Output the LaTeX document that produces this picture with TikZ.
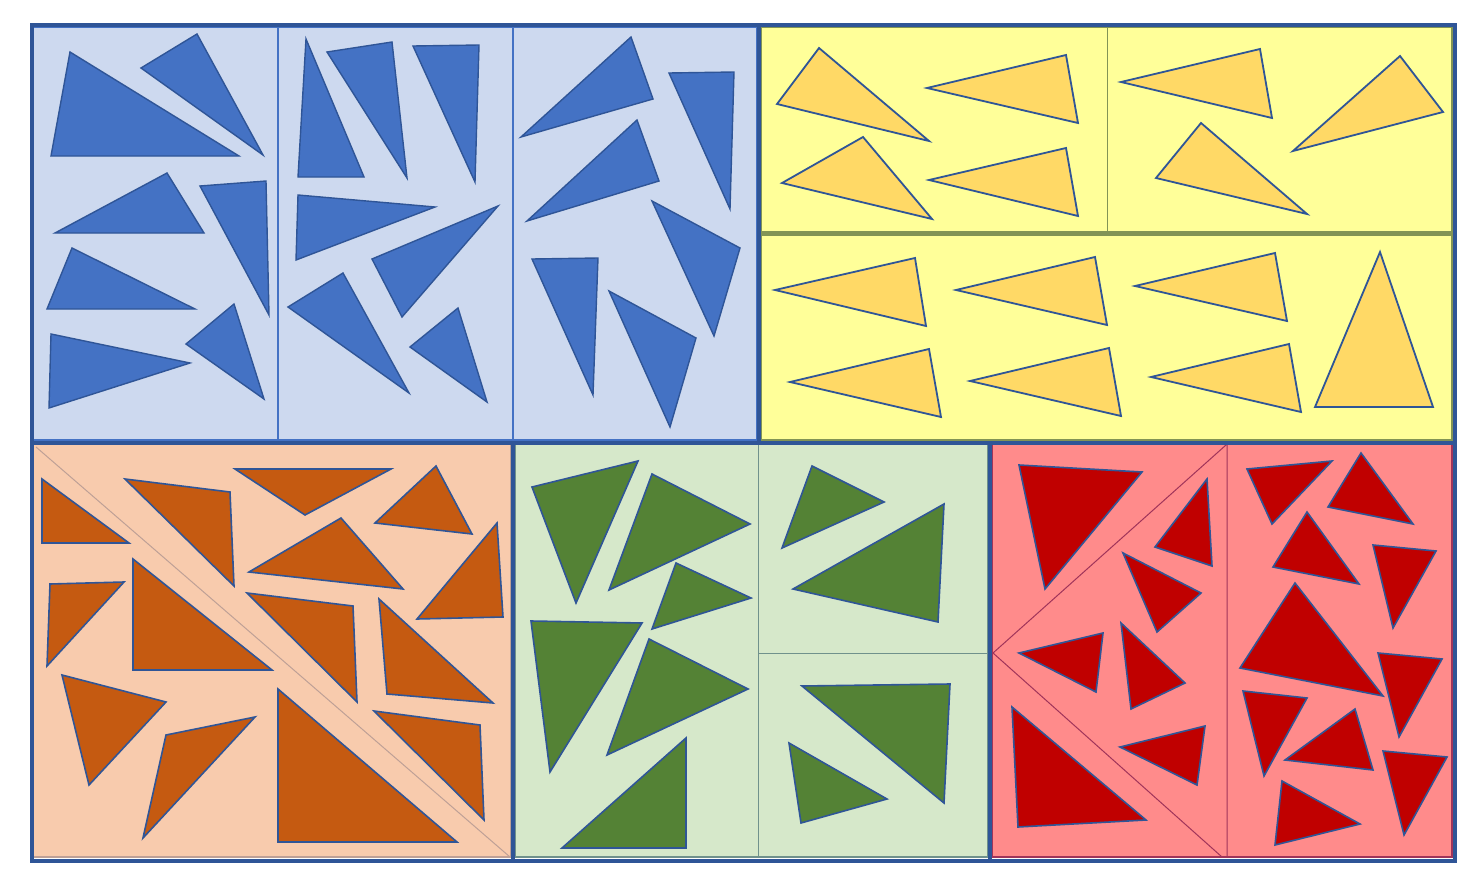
\documentclass[tikz,border=0pt]{standalone}
\usepackage{tikz}
\definecolor{frameblue}{HTML}{2F5597}
\definecolor{bluebg}{RGB}{205,217,239}
\definecolor{bluefill}{HTML}{4472C4}
\definecolor{yellowbg}{HTML}{FFFF99}
\definecolor{yellowfill}{HTML}{FFD966}
\definecolor{olive}{RGB}{130,148,85}
\definecolor{orangebg}{HTML}{F8CBAD}
\definecolor{orangefill}{HTML}{C55A11}
\definecolor{orangeline}{RGB}{190,160,150}
\definecolor{greenbg}{RGB}{214,232,202}
\definecolor{greenfill}{HTML}{548235}
\definecolor{greenline}{RGB}{112,145,140}
\definecolor{redbg}{RGB}{255,139,139}
\definecolor{redfill}{HTML}{C00000}
\definecolor{redline}{RGB}{160,52,90}
\tikzset{
  tri/.style={draw=frameblue,line width=1.4pt,line join=miter},
  btri/.style={tri,fill=bluefill},
  ytri/.style={tri,fill=yellowfill,line width=1.8pt},
  otri/.style={tri,fill=orangefill,line width=1.6pt},
  gtri/.style={tri,fill=greenfill,line width=1.6pt},
  rtri/.style={tri,fill=redfill,line width=1.6pt},
  thickframe/.style={draw=frameblue,line width=4pt},
}
\newcommand\mytri[4]{\path[#1] #2 -- #3 -- #4 -- cycle;}
\begin{document}
\begin{tikzpicture}[x=1pt,y=-1pt]
\useasboundingbox (0,0) rectangle (1483,891);
\fill[white] (0,0) rectangle (1483,891);
% region backgrounds
\filldraw[fill=bluebg,draw=bluefill,line width=2pt] (33,27) rectangle (757,440);
\filldraw[fill=yellowbg,draw=olive,line width=2.5pt] (761,27) rectangle (1452,440);
\filldraw[fill=orangebg,draw=orangeline,line width=2pt] (33,444) rectangle (511,857);
\filldraw[fill=greenbg,draw=greenline,line width=2.5pt] (515,444) rectangle (988,857);
\filldraw[fill=redbg,draw=redline,line width=2.5pt] (992,444) rectangle (1452,857);
% thin dividers
\draw[bluefill,line width=2pt] (278,27) -- (278,440) (513,27) -- (513,440);
\draw[olive,line width=1pt] (1107,27) -- (1107,233);
\draw[olive,line width=5pt] (761,233) -- (1452,233);
\draw[orangeline,line width=1pt] (36,447) -- (510,857);
\draw[greenline,line width=1pt] (758,444) -- (758,857) (758,653) -- (988,653);
\draw[redline,line width=1pt] (1227,444) -- (1227,857) (1226,445) -- (993,653) -- (1222,857);
% blue triangles
\mytri{btri}{(70,52)}{(51,156)}{(239,156)}
\mytri{btri}{(197,34)}{(141,68)}{(263,155)}
\mytri{btri}{(167,173)}{(55,233)}{(204,233)}
\mytri{btri}{(200,186)}{(266,181)}{(269,315)}
\mytri{btri}{(72,248)}{(47,309)}{(195,309)}
\mytri{btri}{(51,334)}{(190,363)}{(49,408)}
\mytri{btri}{(234,304)}{(186,344)}{(264,399)}
\mytri{btri}{(306,39)}{(298,177)}{(364,177)}
\mytri{btri}{(327,52)}{(392,42)}{(407,178)}
\mytri{btri}{(413,46)}{(479,45)}{(475,182)}
\mytri{btri}{(298,195)}{(435,207)}{(296,260)}
\mytri{btri}{(498,206)}{(372,259)}{(402,317)}
\mytri{btri}{(343,273)}{(288,307)}{(409,393)}
\mytri{btri}{(458,308)}{(410,347)}{(487,402)}
\mytri{btri}{(631,37)}{(653,99)}{(521,137)}
\mytri{btri}{(637,120)}{(659,181)}{(527,221)}
\mytri{btri}{(669,73)}{(734,72)}{(730,209)}
\mytri{btri}{(652,201)}{(740,248)}{(714,336)}
\mytri{btri}{(609,291)}{(696,338)}{(670,427)}
\mytri{btri}{(532,259)}{(598,258)}{(593,395)}
% yellow triangles
\mytri{ytri}{(819,48)}{(777,104)}{(929,141)}
\mytri{ytri}{(927,88)}{(1066,55)}{(1078,123)}
\mytri{ytri}{(863,137)}{(782,183)}{(932,219)}
\mytri{ytri}{(929,180)}{(1066,148)}{(1078,216)}
\mytri{ytri}{(1121,82)}{(1260,49)}{(1272,118)}
\mytri{ytri}{(1400,56)}{(1443,112)}{(1293,151)}
\mytri{ytri}{(1201,123)}{(1156,178)}{(1307,214)}
\mytri{ytri}{(775,290)}{(915,258)}{(926,326)}
\mytri{ytri}{(956,290)}{(1095,257)}{(1107,325)}
\mytri{ytri}{(1135,286)}{(1275,253)}{(1287,321)}
\mytri{ytri}{(1380,252)}{(1315,407)}{(1433,407)}
\mytri{ytri}{(790,382)}{(929,349)}{(941,417)}
\mytri{ytri}{(970,381)}{(1109,348)}{(1121,416)}
\mytri{ytri}{(1151,377)}{(1289,344)}{(1301,412)}
% orange triangles
\mytri{otri}{(42,479)}{(42,543)}{(129,543)}
\mytri{otri}{(125,479)}{(230,492)}{(234,586)}
\mytri{otri}{(235,469)}{(391,469)}{(305,515)}
\mytri{otri}{(341,518)}{(249,572)}{(403,589)}
\mytri{otri}{(436,466)}{(375,523)}{(472,534)}
\mytri{otri}{(497,523)}{(503,617)}{(417,619)}
\mytri{otri}{(50,584)}{(124,582)}{(47,666)}
\mytri{otri}{(133,559)}{(133,670)}{(272,670)}
\mytri{otri}{(247,593)}{(353,606)}{(357,702)}
\mytri{otri}{(379,599)}{(387,694)}{(493,703)}
\mytri{otri}{(62,675)}{(166,702)}{(89,785)}
\mytri{otri}{(166,735)}{(255,717)}{(143,838)}
\mytri{otri}{(278,689)}{(278,842)}{(457,842)}
\mytri{otri}{(374,711)}{(480,725)}{(484,820)}
% green triangles
\mytri{gtri}{(532,487)}{(638,461)}{(576,603)}
\mytri{gtri}{(652,474)}{(750,524)}{(609,590)}
\mytri{gtri}{(676,563)}{(751,598)}{(652,629)}
\mytri{gtri}{(531,621)}{(642,623)}{(550,772)}
\mytri{gtri}{(649,639)}{(748,689)}{(607,755)}
\mytri{gtri}{(686,738)}{(686,848)}{(562,848)}
\mytri{gtri}{(812,466)}{(884,502)}{(782,548)}
\mytri{gtri}{(944,504)}{(938,622)}{(793,589)}
\mytri{gtri}{(802,686)}{(950,684)}{(944,803)}
\mytri{gtri}{(789,743)}{(887,799)}{(801,823)}
% red triangles
\mytri{rtri}{(1019,465)}{(1142,472)}{(1045,589)}
\mytri{rtri}{(1207,479)}{(1212,566)}{(1155,547)}
\mytri{rtri}{(1123,553)}{(1201,593)}{(1157,632)}
\mytri{rtri}{(1019,653)}{(1103,633)}{(1096,692)}
\mytri{rtri}{(1121,623)}{(1185,683)}{(1131,709)}
\mytri{rtri}{(1012,707)}{(1018,827)}{(1146,820)}
\mytri{rtri}{(1120,747)}{(1205,726)}{(1197,785)}
\mytri{rtri}{(1247,469)}{(1332,461)}{(1272,524)}
\mytri{rtri}{(1361,453)}{(1413,524)}{(1328,507)}
\mytri{rtri}{(1307,512)}{(1359,584)}{(1273,567)}
\mytri{rtri}{(1373,545)}{(1436,551)}{(1393,628)}
\mytri{rtri}{(1295,583)}{(1240,668)}{(1383,696)}
\mytri{rtri}{(1378,653)}{(1442,659)}{(1399,737)}
\mytri{rtri}{(1243,691)}{(1307,698)}{(1264,776)}
\mytri{rtri}{(1355,709)}{(1373,770)}{(1285,760)}
\mytri{rtri}{(1383,751)}{(1447,757)}{(1404,835)}
\mytri{rtri}{(1282,781)}{(1360,824)}{(1275,845)}
% thick dark blue frame and dividers
\draw[thickframe] (31.5,25.5) rectangle (1454.5,860.5);
\draw[thickframe] (759,25.5) -- (759,442.5);
\draw[thickframe] (31.5,442.5) -- (1454.5,442.5);
\draw[thickframe] (513,442.5) -- (513,860.5);
\draw[thickframe,line width=4.5pt] (990,442.5) -- (990,860.5);
\end{tikzpicture}
\end{document}
